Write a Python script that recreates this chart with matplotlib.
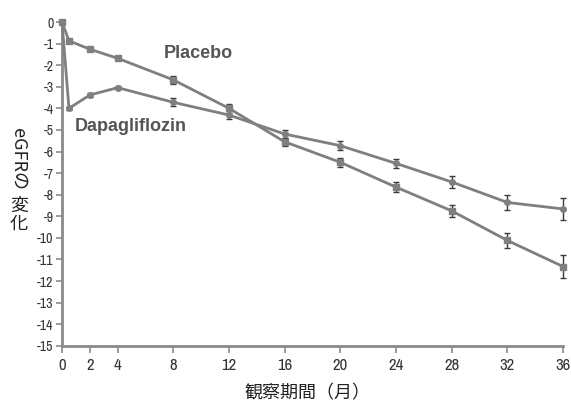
import matplotlib
matplotlib.use("Agg")
import matplotlib.pyplot as plt
from matplotlib import font_manager

months = [0, 0.5, 2, 4, 8, 12, 16, 20, 24, 28, 32, 36]
placebo = [0, -0.87, -1.26, -1.68, -2.68, -4.0, -5.55, -6.5, -7.65, -8.75, -10.12, -11.33]
placebo_err = [0, 0.08, 0.08, 0.1, 0.18, 0.2, 0.2, 0.2, 0.22, 0.27, 0.35, 0.52]
dapa = [0, -4.0, -3.38, -3.04, -3.72, -4.31, -5.19, -5.73, -6.55, -7.41, -8.36, -8.66]
dapa_err = [0, 0.08, 0.08, 0.08, 0.18, 0.2, 0.2, 0.2, 0.22, 0.28, 0.35, 0.52]

x_ticks = [0, 2, 4, 8, 12, 16, 20, 24, 28, 32, 36]
y_ticks = list(range(0, -16, -1))

# look for some condensed face for the tick numbers
names = sorted(set(f.name for f in font_manager.fontManager.ttflist))
cond = [n for n in names if "Narrow" in n or "Condensed" in n]
narrow = cond[:1] + ["DejaVu Sans"]
jp = ["Noto Sans CJK JP", "DejaVu Sans"]
line_col = "#7f7f7f"
err_col = "#3a3a3a"
axis_col = "#8a8a8a"

fig = plt.figure(figsize=(5.71, 4.03), dpi=100)
ax = fig.add_axes([0.1086, 0.142, 0.8775, 0.806])

ax.errorbar(months, placebo, yerr=placebo_err, color=line_col, lw=2.0,
            marker="s", ms=4.5, mfc=line_col, mec=line_col,
            ecolor=err_col, elinewidth=1.0, capsize=2.5, capthick=1.0,
            clip_on=False, zorder=3)
ax.errorbar(months, dapa, yerr=dapa_err, color=line_col, lw=2.0,
            marker="o", ms=4, mfc=line_col, mec=line_col,
            ecolor=err_col, elinewidth=1.0, capsize=2.5, capthick=1.0,
            clip_on=False, zorder=3)

ax.set_xlim(0, 36)
ax.set_ylim(-15, 0.05)
ax.set_xticks(x_ticks)
ax.set_xticklabels([str(v) for v in x_ticks], family=narrow, fontsize=12,
                   color="#333333", stretch="condensed")
ax.set_yticks(y_ticks)
ax.set_yticklabels([str(v) for v in y_ticks], family=narrow, fontsize=10,
                   color="#333333", stretch="condensed")
ax.tick_params(axis="y", direction="out", length=4, width=1.2, color=axis_col, pad=2)
ax.tick_params(axis="x", direction="out", length=5, width=1.2, color=axis_col, pad=4)

for side in ["top", "right"]:
    ax.spines[side].set_visible(False)
for side in ["left", "bottom"]:
    ax.spines[side].set_color(axis_col)
    ax.spines[side].set_linewidth(2.0)

ax.text(7.3, -1.48, "Placebo", fontsize=13, fontweight="bold", color="#555555",
        family=["Liberation Sans", "DejaVu Sans"], va="center")
ax.text(0.94, -4.86, "Dapagliflozin", fontsize=13, fontweight="bold", color="#555555",
        family=["Liberation Sans", "DejaVu Sans"], va="center")

# vertical Japanese y label
fig.text(0.033, 0.605, "eGFRの", rotation=-90, fontsize=13, family=jp,
         ha="center", va="center", color="#222222")
fig.text(0.033, 0.467, "変\n化", fontsize=13, family=jp, ha="center", va="center",
         linespacing=0.95, color="#222222")

fig.text(0.538, 0.025, "観察期間（月）", fontsize=13, family=jp, ha="center",
         va="center", color="#222222")

fig.savefig("out.png", dpi=100)
